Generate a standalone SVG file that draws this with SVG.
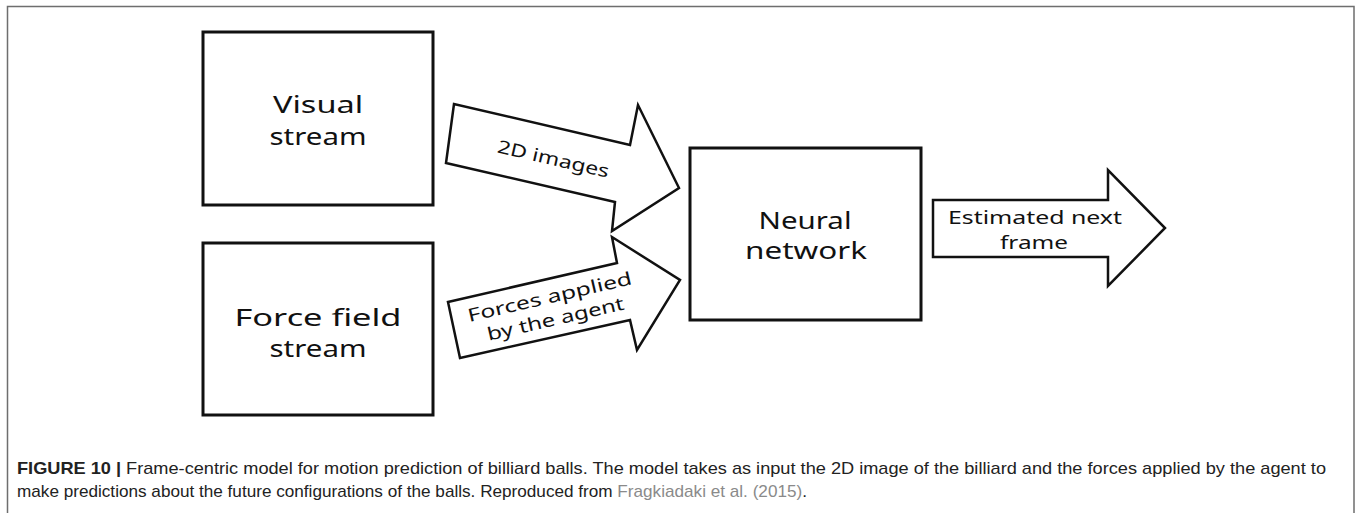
<svg xmlns="http://www.w3.org/2000/svg" width="1358" height="513" viewBox="0 0 1358 513">
  <style>
    .box { fill: #ffffff; stroke: #111111; stroke-width: 3; }
    .arrow { fill: #ffffff; stroke: #111111; stroke-width: 2.5; stroke-linejoin: miter; }
    .hand { font-family: "Noto Sans", "DejaVu Sans", sans-serif; fill: #111111; text-anchor: middle; }
    .big { font-size: 24px; }
    .small { font-size: 18px; }
    .cap { font-family: "Liberation Sans", Arial, sans-serif; font-size: 17px; fill: #222222; }
    .capb { font-weight: bold; }
    .link { fill: #8a8a8a; }
  </style>
  <rect width="1358" height="513" fill="#ffffff"/>
  <!-- outer figure frame, open at the bottom -->
  <path d="M7.5,520 V6.5 H1354 V520" fill="none" stroke="#6e6e6e" stroke-width="1.5"/>

  <g id="visual-stream">
    <rect class="box" x="203" y="32" width="230" height="173"/>
    <text class="hand big" x="318" y="113" textLength="90" lengthAdjust="spacingAndGlyphs">Visual</text>
    <text class="hand big" x="318" y="145" textLength="97" lengthAdjust="spacingAndGlyphs">stream</text>
  </g>

  <g id="force-field-stream">
    <rect class="box" x="203" y="243" width="230" height="172"/>
    <text class="hand big" x="318" y="326" textLength="167" lengthAdjust="spacingAndGlyphs">Force field</text>
    <text class="hand big" x="318" y="357" textLength="97" lengthAdjust="spacingAndGlyphs">stream</text>
  </g>

  <g id="neural-network">
    <rect class="box" x="690" y="148" width="231" height="172"/>
    <text class="hand big" x="805" y="229" textLength="93" lengthAdjust="spacingAndGlyphs">Neural</text>
    <text class="hand big" x="806" y="259" textLength="122" lengthAdjust="spacingAndGlyphs">network</text>
  </g>

  <g id="connectors">
    <g id="arrow-2d-images">
      <polygon class="arrow" points="454,104 446,163 615,202 612,231 679,188 638,105 630,145"/>
      <text class="hand small" transform="translate(552,165) rotate(13)" x="0" y="0" textLength="114" lengthAdjust="spacingAndGlyphs">2D images</text>
    </g>
    <g id="arrow-forces">
      <polygon class="arrow" points="448,302 460,358 630,320 637,350 680,280 612,237 617,263"/>
      <text class="hand small" transform="translate(551,303) rotate(-13)" x="0" y="0" textLength="168" lengthAdjust="spacingAndGlyphs">Forces applied</text>
      <text class="hand small" transform="translate(557,325) rotate(-13)" x="0" y="0" textLength="140" lengthAdjust="spacingAndGlyphs">by the agent</text>
    </g>
    <g id="arrow-next-frame">
      <polygon class="arrow" points="933,200 1108,200 1108,170 1165,228 1108,286 1108,257 933,257"/>
      <text class="hand small" x="1035" y="224" textLength="174" lengthAdjust="spacingAndGlyphs">Estimated next</text>
      <text class="hand small" x="1034" y="249" textLength="68" lengthAdjust="spacingAndGlyphs">frame</text>
    </g>
  </g>

  <g id="caption">
    <text class="cap" x="17" y="474" textLength="1309" lengthAdjust="spacingAndGlyphs"><tspan class="capb">FIGURE 10 |</tspan> Frame-centric model for motion prediction of billiard balls. The model takes as input the 2D image of the billiard and the forces applied by the agent to</text>
    <text class="cap" x="17" y="497" textLength="790" lengthAdjust="spacingAndGlyphs">make predictions about the future configurations of the balls. Reproduced from <tspan class="link">Fragkiadaki et al. (2015)</tspan>.</text>
  </g>
</svg>
